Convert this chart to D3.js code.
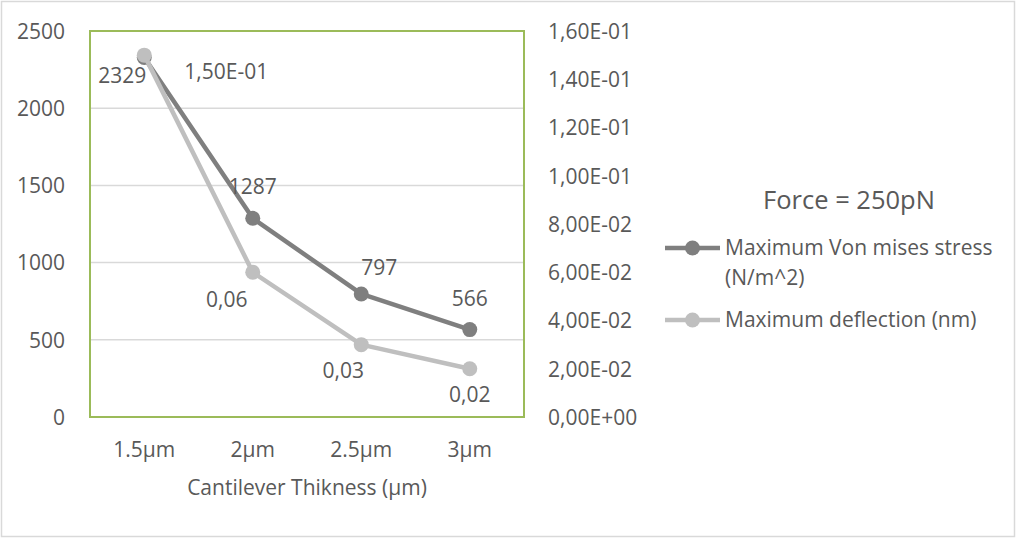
<!DOCTYPE html>
<html>
<head>
<meta charset="utf-8">
<script src="https://cdn.jsdelivr.net/npm/d3@7"></script>
<style>
    html, body { margin: 0; padding: 0; background: #fff; }
    svg text { font-family: "Open Sans", "Noto Sans", sans-serif; fill: #595959; }
</style>
</head>
<body>
<div id="chart"></div>
<script>
"use strict";

// data
const categories = ["1.5µm", "2µm", "2.5µm", "3µm"];
const stressValues = [2329, 1287, 797, 566];
const deflectionValues = [0.15, 0.06, 0.03, 0.02];
const deflectionLabels = ["1,50E-01", "0,06", "0,03", "0,02"];
const leftTicks = [0, 500, 1000, 1500, 2000, 2500];
const rightTicks = [0, 0.02, 0.04, 0.06, 0.08, 0.10, 0.12, 0.14, 0.16];
const seriesNames = ["Maximum Von mises stress", "Maximum deflection (nm)"];

const W = 1016, H = 538;
const plot = { left: 90, right: 524, top: 31, bottom: 417 };
const colDark = "#7f7f7f", colLight = "#bfbfbf";
const fs = "21px";

const svg = d3.select("#chart").append("svg")
    .attr("width", W)
    .attr("height", H);

// chart border
svg.append("rect")
    .attr("x", 1.5).attr("y", 1.5)
    .attr("width", W - 3).attr("height", H - 3)
    .attr("fill", "#fff")
    .attr("stroke", "#d9d9d9")
    .attr("stroke-width", 1.5);

let x = d3.scaleBand().domain(categories).range([plot.left, plot.right]).padding(0);
let yL = d3.scaleLinear().domain([0, 2500]).range([plot.bottom, plot.top]);
let yR = d3.scaleLinear().domain([0, 0.16]).range([plot.bottom, plot.top]);
let cx = (d) => x(d) + x.bandwidth() / 2;

// gridlines
svg.append("g").selectAll("line")
    .data(leftTicks.slice(1, -1))
    .enter().append("line")
    .attr("x1", plot.left).attr("x2", plot.right)
    .attr("y1", (d) => yL(d)).attr("y2", (d) => yL(d))
    .attr("stroke", "#d9d9d9")
    .attr("stroke-width", 1.5);

// plot area border (green)
svg.append("rect")
    .attr("x", plot.left).attr("y", plot.top)
    .attr("width", plot.right - plot.left)
    .attr("height", plot.bottom - plot.top)
    .attr("fill", "none")
    .attr("stroke", "#9bbb59")
    .attr("stroke-width", 2);

// left axis
let axL = svg.append("g")
    .attr("transform", "translate(" + (plot.left - 25) + ",0)")
    .call(d3.axisLeft(yL).tickValues(leftTicks).tickFormat(d3.format("d")).tickSize(0).tickPadding(0));
axL.select(".domain").remove();
axL.selectAll("text").style("font-size", fs).attr("dy", "0.35em");

// right axis
function sciComma(v) {
    let s = v.toExponential(2).split("e");
    let exp = parseInt(s[1]);
    let e = (exp < 0 ? "-" : "+") + String(Math.abs(exp)).padStart(2, "0");
    return s[0].replace(".", ",") + "E" + e;
}
let axR = svg.append("g")
    .attr("transform", "translate(" + (plot.right + 24) + ",0)")
    .call(d3.axisRight(yR).tickValues(rightTicks).tickFormat(sciComma).tickSize(0).tickPadding(0));
axR.select(".domain").remove();
axR.selectAll("text").style("font-size", fs).attr("dy", "0.35em");

// bottom axis
let axB = svg.append("g")
    .attr("transform", "translate(0," + (plot.bottom + 33) + ")")
    .call(d3.axisBottom(x).tickSize(0).tickPadding(0));
axB.select(".domain").remove();
axB.selectAll("text").style("font-size", fs).attr("dy", "0.35em");

svg.append("text")
    .attr("x", (plot.left + plot.right) / 2)
    .attr("y", 488)
    .attr("dy", "0.35em")
    .attr("text-anchor", "middle")
    .style("font-size", fs)
    .text("Cantilever Thikness (µm)");

// series
let series = [
    { values: stressValues, y: yL, color: colDark,
      labels: stressValues.map((v) => String(v)),
      offsets: [[-22, 18], [0, -32], [18, -26], [0, -31]] },
    { values: deflectionValues, y: yR, color: colLight,
      labels: deflectionLabels,
      offsets: [[82, 17], [-26, 27], [-18, 26], [0, 26]] }
];

series.forEach(function (s) {
    let line = d3.line()
        .x((d, i) => cx(categories[i]))
        .y((d) => s.y(d));
    let g = svg.append("g");
    g.append("path")
        .datum(s.values)
        .attr("d", line)
        .attr("fill", "none")
        .attr("stroke", s.color)
        .attr("stroke-width", 4.5)
        .attr("stroke-linejoin", "round");
    g.selectAll("circle")
        .data(s.values)
        .enter().append("circle")
        .attr("cx", (d, i) => cx(categories[i]))
        .attr("cy", (d) => s.y(d))
        .attr("r", 7.5)
        .attr("fill", s.color);
});

// data labels
series.forEach(function (s) {
    svg.append("g").selectAll("text")
        .data(s.values)
        .enter().append("text")
        .attr("x", (d, i) => cx(categories[i]) + s.offsets[i][0])
        .attr("y", (d, i) => s.y(d) + s.offsets[i][1])
        .attr("dy", "0.35em")
        .attr("text-anchor", "middle")
        .style("font-size", fs)
        .text((d, i) => s.labels[i]);
});

// legend
svg.append("text")
    .attr("x", 849).attr("y", 200)
    .attr("dy", "0.35em")
    .attr("text-anchor", "middle")
    .style("font-size", "25.5px")
    .text("Force = 250pN");

let legendRows = [
    { y: 248, color: colDark, lines: [seriesNames[0], "(N/m^2)"] },
    { y: 320, color: colLight, lines: [seriesNames[1]] }
];
let leg = svg.selectAll(".leyenda")
    .data(legendRows)
    .enter().append("g")
    .attr("class", "leyenda")
    .attr("transform", (d) => "translate(665," + d.y + ")");
leg.append("line")
    .attr("x1", 0).attr("x2", 55)
    .attr("stroke", (d) => d.color)
    .attr("stroke-width", 4.5);
leg.append("circle")
    .attr("cx", 27.5)
    .attr("r", 7.5)
    .attr("fill", (d) => d.color);
leg.append("text")
    .attr("x", 60)
    .style("font-size", fs)
    .selectAll("tspan")
    .data((d) => d.lines)
    .enter().append("tspan")
    .attr("x", 60)
    .attr("dy", (d, i) => i == 0 ? "0.35em" : "30px")
    .text((d) => d);
</script>
</body>
</html>
